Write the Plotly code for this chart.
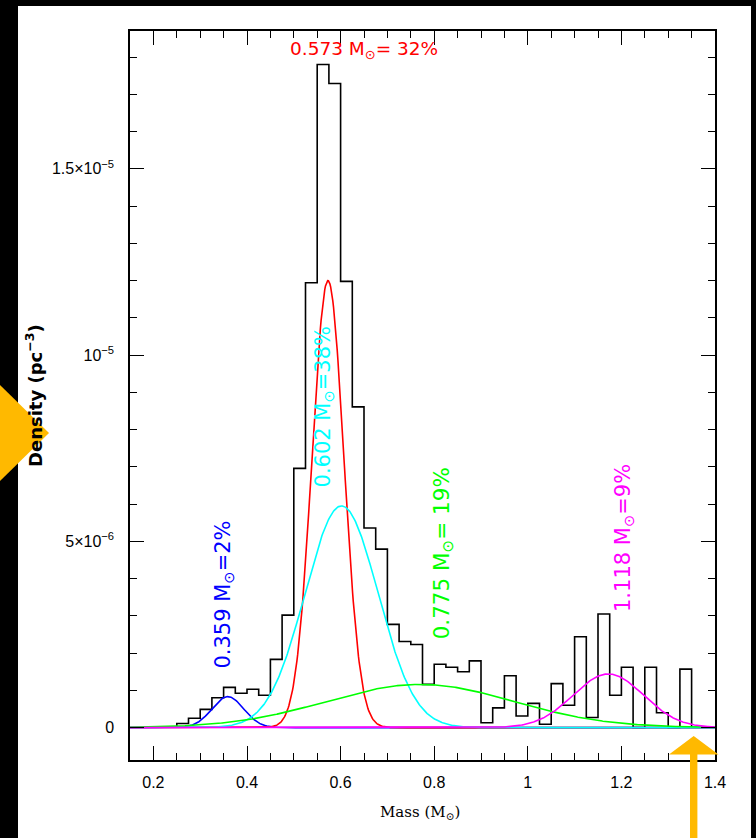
import numpy as np
import plotly.graph_objects as go

# ---------------- data ----------------
bin_start = 0.25
bin_width = 0.025
# histogram densities per 0.025 Msun bin (units of 1e-6 pc^-3)
hist_values_e6 = [0.11, 0.25, 0.49, 0.80, 1.08, 0.92, 1.03, 0.87, 1.83, 3.02,
                  6.96, 11.94, 17.80, 17.29, 11.98, 8.61, 5.36, 4.79, 2.77, 2.31,
                  2.23, 1.16, 1.70, 1.62, 1.50, 1.79, 0.13, 0.53, 1.39, 0.31,
                  0.65, 0.09, 1.18, 0.60, 2.44, 0.27, 3.05, 0.87, 1.62, 0.00,
                  1.62, 0.40, 0.00, 1.57]

# Gaussian components (fit curves)
comp_names = ["blue", "red", "cyan", "green", "magenta"]
comp_colors = ["#0000ff", "#ff0000", "#00ffff", "#00ff00", "#ff00ff"]
comp_mu = [0.359, 0.573, 0.602, 0.77, 1.172]
comp_sigma = [0.034, 0.034, 0.078, 0.20, 0.075]
comp_amp_e6 = [0.83, 12.0, 5.95, 1.16, 1.44]

comp_labels = ["0.359 M<sub>⊙</sub>=2%", "0.573 M<sub>⊙</sub>= 32%",
               "0.602 M<sub>⊙</sub>=38%", "0.775 M<sub>⊙</sub>= 19%",
               "1.118 M<sub>⊙</sub>=9%"]
label_x = [0.350, 0.649, 0.5645, 0.819, 1.2056]
label_y_e6 = [3.56, 18.18, 8.62, 4.68, 5.09]
label_angle = [-90, 0, -90, -90, -90]
label_size = [21, 18.5, 21, 21.5, 21]

x_range = [0.15, 1.4]
y_range = [-0.87e-6, 1.87e-5]
y_tickvals = [0, 5e-6, 1e-5, 1.5e-5]
y_ticktext = ["0", "5×10<sup>−6</sup>", "10<sup>−5</sup>", "1.5×10<sup>−5</sup>"]

# ---------------- figure ----------------
W, H = 756, 838
ML, MR, MT, MB = 130, 41, 31, 78
PW, PH = W - ML - MR, H - MT - MB


def px2paper(px, py):
    return (px - ML) / PW, (H - MB - py) / PH


fig = go.Figure()

# histogram outline (step)
n = len(hist_values_e6)
edges = [bin_start + i * bin_width for i in range(n + 1)]
vals = [v * 1e-6 for v in hist_values_e6]
xs = [edges[0]] + edges
ys = [0.0] + vals + [0.0]
fig.add_trace(go.Scatter(x=xs, y=ys, mode="lines", line_shape="hv",
                         line=dict(color="black", width=1.6),
                         hoverinfo="skip", showlegend=False))

xg = np.linspace(x_range[0], x_range[1], 800)
for name, col, mu, sg, a in zip(comp_names, comp_colors, comp_mu, comp_sigma, comp_amp_e6):
    yg = a * 1e-6 * np.exp(-0.5 * ((xg - mu) / sg) ** 2)
    fig.add_trace(go.Scatter(x=xg, y=yg, mode="lines", name=name,
                             line=dict(color=col, width=1.6),
                             hoverinfo="skip", showlegend=False))

annotations = []
for txt, col, lx, ly, ang, sz in zip(comp_labels, comp_colors, label_x, label_y_e6,
                                      label_angle, label_size):
    annotations.append(dict(x=lx, y=ly * 1e-6, xref="x", yref="y", text=txt,
                            showarrow=False, textangle=ang,
                            xanchor="center", yanchor="middle",
                            font=dict(family="DejaVu Sans", size=sz, color=col)))

# axis titles
mx, my = px2paper(420, 812)
annotations.append(dict(x=mx, y=my, xref="paper", yref="paper",
                        text="Mass (M<sub>⊙</sub>)", showarrow=False,
                        xanchor="center", yanchor="middle",
                        font=dict(family="DejaVu Serif", size=15, color="black")))
dx, dy = px2paper(34, 396)
annotations.append(dict(x=dx, y=dy, xref="paper", yref="paper",
                        text="<b>Density (pc<sup>−3</sup>)</b>", showarrow=False,
                        textangle=-90, xanchor="center", yanchor="middle",
                        font=dict(family="DejaVu Sans", size=18, color="black")))

# background white panel on black page, orange overlay marks
shapes = []
x0, y1 = px2paper(18, 6)
x1, y0 = px2paper(751, 838)
shapes.append(dict(type="rect", xref="paper", yref="paper", x0=x0, x1=x1, y0=y0, y1=y1,
                   fillcolor="white", line=dict(width=0), layer="below"))


def path_px(points):
    s = ""
    for i, (px, py) in enumerate(points):
        u, v = px2paper(px, py)
        s += ("M" if i == 0 else "L") + f"{u:.5f},{v:.5f} "
    return s + "Z"


orange = "#FFB900"
shapes.append(dict(type="path", xref="paper", yref="paper",
                   path=path_px([(-2, 383), (49, 433), (-2, 483)]),
                   fillcolor=orange, line=dict(width=0), layer="above"))
shapes.append(dict(type="path", xref="paper", yref="paper",
                   path=path_px([(669, 754.5), (693.7, 736), (718.5, 754.5)]),
                   fillcolor=orange, line=dict(width=0), layer="above"))
shapes.append(dict(type="path", xref="paper", yref="paper",
                   path=path_px([(690, 754), (697.4, 754), (697.4, 840), (690, 840)]),
                   fillcolor=orange, line=dict(width=0), layer="above"))

fig.update_layout(
    width=W, height=H,
    margin=dict(l=ML, r=MR, t=MT, b=MB),
    paper_bgcolor="black", plot_bgcolor="white",
    showlegend=False,
    annotations=annotations, shapes=shapes,
)
fig.update_xaxes(range=x_range, tickmode="linear", tick0=0, dtick=0.2,
                 ticks="inside", ticklen=14, tickwidth=1, tickcolor="black",
                 showline=True, linecolor="black", linewidth=1.5, mirror="allticks",
                 showgrid=False, zeroline=False,
                 minor=dict(ticks="inside", ticklen=7, tickwidth=1, tickcolor="black",
                            tick0=0, dtick=0.05, showgrid=False),
                 tickfont=dict(family="Liberation Sans", size=16, color="black"),
                 ticklabelstandoff=7)
fig.update_yaxes(range=y_range, tickmode="array", tickvals=y_tickvals, ticktext=y_ticktext,
                 ticks="inside", ticklen=14, tickwidth=1, tickcolor="black",
                 showline=True, linecolor="black", linewidth=1.5, mirror="allticks",
                 showgrid=False, zeroline=False,
                 minor=dict(ticks="inside", ticklen=7, tickwidth=1, tickcolor="black",
                            tick0=0, dtick=1e-6, showgrid=False),
                 tickfont=dict(family="Liberation Sans", size=16, color="black"),
                 ticklabelstandoff=11)

fig.write_html("out.html")
